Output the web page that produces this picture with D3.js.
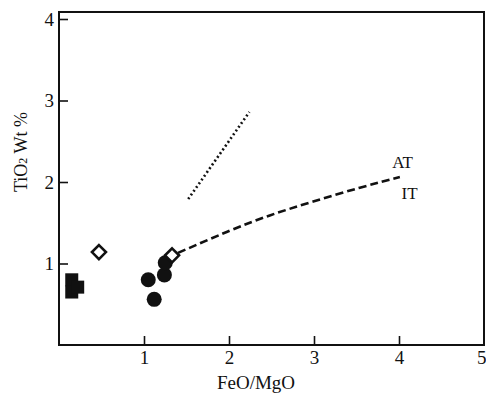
<!DOCTYPE html>
<html><head><meta charset="utf-8">
<script src="https://cdn.jsdelivr.net/npm/d3@7"></script>
<style>body{margin:0;background:#fff}svg{display:block}text{font-family:"Liberation Serif","Times New Roman",serif;fill:#111}</style>
</head><body>
<svg id="c" width="486" height="406"></svg>
<script>
const xTicks = [1, 2, 3, 4, 5];
const yTicks = [1, 2, 3, 4];
const squares = [[0.15, 0.80], [0.15, 0.65], [0.22, 0.71]];
const diamonds = [[0.47, 1.14], [1.33, 1.10]];
const circles = [[1.05, 0.80], [1.12, 0.56], [1.24, 0.86], [1.25, 1.01]];
const dashedCurve = [[1.40, 1.13], [1.98, 1.39], [2.48, 1.59], [2.99, 1.76], [3.54, 1.93], [4.01, 2.06]];
const dottedLine = [[1.52, 1.79], [2.24, 2.86]];
const labels = [{t: "AT", x: 3.92, y: 2.17}, {t: "IT", x: 4.03, y: 1.79}];

const svg = d3.select("#c");
const x = d3.scaleLinear().domain([0, 5]).range([59, 484]);
const y = d3.scaleLinear().domain([0, 4]).range([345, 19]);
const frameTop = y(4.086);

// frame
svg.append("rect").attr("x", x(0)).attr("y", frameTop).attr("width", x(5) - x(0)).attr("height", y(0) - frameTop)
  .attr("fill", "none").attr("stroke", "#111").attr("stroke-width", 2);

// axes with inward ticks
const xAxis = svg.append("g").attr("transform", `translate(0,${y(0)})`)
  .call(d3.axisBottom(x).tickValues(xTicks).tickSizeInner(-9).tickSizeOuter(0).tickPadding(6).tickFormat(d3.format("d")));
const yAxis = svg.append("g").attr("transform", `translate(${x(0)},0)`)
  .call(d3.axisLeft(y).tickValues(yTicks).tickSizeInner(-9).tickSizeOuter(0).tickPadding(5).tickFormat(d3.format("d")));
[xAxis, yAxis].forEach(g => {
  g.select(".domain").remove();
  g.selectAll("line").attr("stroke", "#111").attr("stroke-width", 1.6);
  g.selectAll("text").attr("font-size", 19).attr("font-family", '"Liberation Serif",serif').attr("fill", "#111");
});
const t5 = xAxis.selectAll(".tick").filter(d => d === 5);
t5.select("line").remove();
t5.select("text").attr("text-anchor", "end").attr("x", 2);

// dotted line
svg.append("path").datum(dottedLine)
  .attr("d", d3.line().x(d => x(d[0])).y(d => y(d[1])))
  .attr("fill", "none").attr("stroke", "#111").attr("stroke-width", 2.6).attr("stroke-dasharray", "2,2.6");

// dashed curve
svg.append("path").datum(dashedCurve)
  .attr("d", d3.line().x(d => x(d[0])).y(d => y(d[1])).curve(d3.curveNatural))
  .attr("fill", "none").attr("stroke", "#111").attr("stroke-width", 2.6).attr("stroke-dasharray", "8,4");

// squares
svg.selectAll(".sq").data(squares).join("rect").attr("class", "sq")
  .attr("x", d => x(d[0]) - 6.5).attr("y", d => y(d[1]) - 6.5).attr("width", 13).attr("height", 13).attr("fill", "#111");

// circles
svg.selectAll(".ci").data(circles).join("circle").attr("class", "ci")
  .attr("cx", d => x(d[0])).attr("cy", d => y(d[1])).attr("r", 7.5).attr("fill", "#111");

// diamonds
svg.selectAll(".di").data(diamonds).join("path").attr("class", "di")
  .attr("transform", d => `translate(${x(d[0])},${y(d[1])})`)
  .attr("d", "M0,-7 L7,0 L0,7 L-7,0 Z")
  .attr("fill", "#fff").attr("stroke", "#111").attr("stroke-width", 2.6);

// line labels
svg.selectAll(".lb").data(labels).join("text").attr("class", "lb")
  .attr("x", d => x(d.x)).attr("y", d => y(d.y)).attr("font-size", 17).text(d => d.t);

// axis titles
svg.append("text").attr("x", 256).attr("y", 389).attr("text-anchor", "middle").attr("font-size", 19).text("FeO/MgO");
const yt = svg.append("text").attr("transform", "translate(27,152) rotate(-90)").attr("text-anchor", "middle").attr("font-size", 18);
yt.append("tspan").text("TiO");
yt.append("tspan").attr("font-size", 12).text("2");
yt.append("tspan").text(" Wt %");
</script>
</body></html>
